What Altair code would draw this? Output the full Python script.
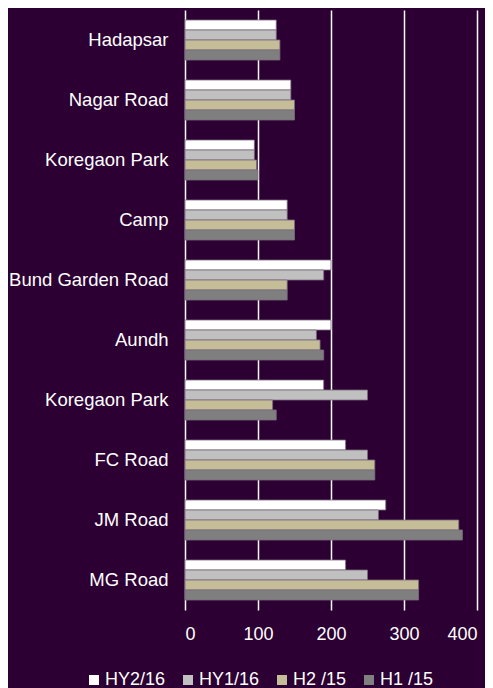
import altair as alt
import pandas as pd

categories = ["Hadapsar", "Nagar Road", "Koregaon Park", "Camp", "Bund Garden Road",
              "Aundh", "Koregaon Park ", "FC Road", "JM Road", "MG Road"]
series = ["HY2/16", "HY1/16", "H2 /15", "H1 /15"]
colors = ["#ffffff", "#c0c0c0", "#c4bd97", "#7f7f7f"]

hy2_16 = [125, 145, 95, 140, 200, 200, 190, 220, 275, 220]
hy1_16 = [125, 145, 95, 140, 190, 180, 250, 250, 265, 250]
h2_15 = [130, 150, 98, 150, 140, 185, 120, 260, 375, 320]
h1_15 = [130, 150, 100, 150, 140, 190, 125, 260, 380, 320]

rows = []
for s, vals in zip(series, [hy2_16, hy1_16, h2_15, h1_15]):
    for c, v in zip(categories, vals):
        rows.append({"Location": c, "Series": s, "Value": v})
df = pd.DataFrame(rows)

bg = "#2c0033"
font = "Liberation Sans"

chart = alt.Chart(df).mark_bar(stroke="#7a6a7c", strokeWidth=0.8).encode(
    y=alt.Y("Location:N", sort=categories, title=None,
            scale=alt.Scale(paddingInner=1/3, paddingOuter=1/6),
            axis=alt.Axis(labelColor="white", labelFont=font, labelFontSize=18.5,
                          ticks=False, domain=False, labelPadding=17, labelLimit=300)),
    yOffset=alt.YOffset("Series:N", sort=series,
                        scale=alt.Scale(paddingInner=0, paddingOuter=0)),
    x=alt.X("Value:Q", title=None,
            scale=alt.Scale(domain=[0, 400], nice=False),
            axis=alt.Axis(values=[0, 100, 200, 300, 400], grid=True, gridColor="white",
                          gridWidth=1.5, gridOpacity=1, ticks=False, domain=False,
                          labelColor="white", labelFont=font, labelFontSize=18,
                          labelPadding=15)),
    color=alt.Color("Series:N", sort=series,
                    scale=alt.Scale(domain=series, range=colors),
                    legend=alt.Legend(orient="none", legendX=-100, legendY=661,
                                      direction="horizontal", columns=4, title=None,
                                      symbolType="square", symbolSize=100,
                                      symbolStrokeWidth=0, labelOffset=2,
                                      columnPadding=13, padding=0,
                                      labelColor="white", labelFont=font,
                                      labelFontSize=18)),
).properties(
    width=292, height=600,
    background=bg,
    padding={"left": 177, "top": 2, "right": 8, "bottom": 78},
    autosize=alt.AutoSizeParams(type="none"),
).configure_view(stroke=None)

chart.save("out.html", embed_options={"renderer": "svg", "actions": False})
